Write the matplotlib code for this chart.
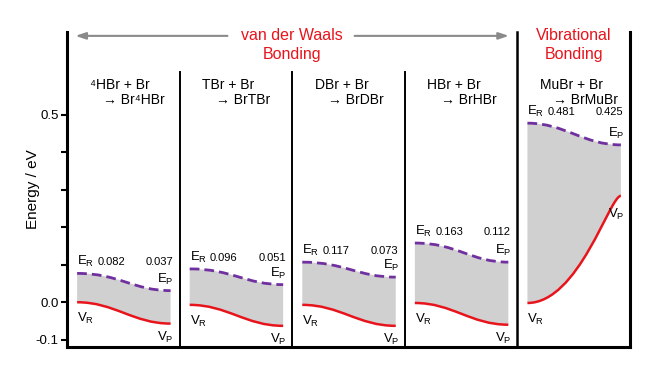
import matplotlib.pyplot as plt
from matplotlib.path import Path
from matplotlib.patches import PathPatch

plt.rcParams['font.family'] = ['Liberation Sans', 'DejaVu Sans']
plt.rcParams['mathtext.fontset'] = 'custom'
plt.rcParams['mathtext.rm'] = 'Liberation Sans'
plt.rcParams['mathtext.it'] = 'Liberation Sans:italic'

# reaction of each panel (line 1, line 2)
reactants = ['\u2074HBr + Br', 'TBr + Br', 'DBr + Br', 'HBr + Br', 'MuBr + Br']
products = ['\u2192 Br\u2074HBr', '\u2192 BrTBr', '\u2192 BrDBr', '\u2192 BrHBr', '\u2192 BrMuBr']
# labelled values
er_text = ['0.082', '0.096', '0.117', '0.163', '0.481']
ep_text = ['0.037', '0.051', '0.073', '0.112', '0.425']
# curve end points (eV)
e_react = [0.077, 0.089, 0.107, 0.158, 0.478]
e_prod = [0.031, 0.047, 0.067, 0.107, 0.420]
v_react = [0.0, -0.007, -0.007, -0.002, -0.002]
v_prod = [-0.057, -0.063, -0.063, -0.060, 0.284]

red = '#e8141c'
purple = '#7030a0'
grey = '#d0d0d0'

fig = plt.figure(figsize=(6.53, 3.78), dpi=100)
ax = fig.add_axes([0.1026, 0.082, 0.862, 0.833])
ax.set_xlim(0, 5)
ax.set_ylim(-0.1195, 0.721)


def bez(x0, x1, y0, y1, a, b):
    w = x1 - x0
    return [(x0, y0), (x0 + a * w, y0), (x1 - b * w, y1), (x1, y1)]


for i in range(5):
    x0 = i + 0.09
    x1 = i + 0.92
    if i < 4:
        ea, eb, va, vb = 0.45, 0.4, 0.4, 0.4
    else:
        ea, eb, va, vb = 0.4, 0.4, 0.55, 0.12
    top = bez(x0, x1, e_react[i], e_prod[i], ea, eb)
    bot = bez(x0, x1, v_react[i], v_prod[i], va, vb)
    verts = top + bot[::-1] + [(0, 0)]
    codes = [Path.MOVETO, Path.CURVE4, Path.CURVE4, Path.CURVE4,
             Path.LINETO, Path.CURVE4, Path.CURVE4, Path.CURVE4, Path.CLOSEPOLY]
    ax.add_patch(PathPatch(Path(verts, codes), fc=grey, ec='none', zorder=1))
    ax.add_patch(PathPatch(Path(top, codes[:4]), fc='none', ec=purple, lw=2.0,
                           ls=(0, (3.5, 1.8)), zorder=3))
    ax.add_patch(PathPatch(Path(bot, codes[:4]), fc='none', ec=red, lw=1.8, zorder=3))

    # panel titles
    ax.text(i + 0.20, 0.58, reactants[i], fontsize=10, va='center', ha='left')
    ax.text(i + 0.32, 0.54, products[i], fontsize=10, va='center', ha='left')

    # labels
    ax.text(x0, e_react[i] + 0.031, 'E$_\\mathregular{R}$', fontsize=9.5, ha='left', va='center')
    ax.text(i + 0.27, e_react[i] + 0.030, er_text[i], fontsize=8, ha='left', va='center')
    ax.text(i + 0.945, e_react[i] + 0.030, ep_text[i], fontsize=8, ha='right', va='center')
    ax.text(i + 0.95, e_prod[i] + 0.031, 'E$_\\mathregular{P}$', fontsize=9.5, ha='right', va='center')
    ax.text(x0, v_react[i] - 0.043, 'V$_\\mathregular{R}$', fontsize=9.5, ha='left', va='center')
    vp_off = 0.036 if i < 4 else 0.05
    ax.text(i + 0.95, v_prod[i] - vp_off, 'V$_\\mathregular{P}$', fontsize=9.5, ha='right', va='center')

# panel dividers
for xd in [1, 2, 3]:
    ax.plot([xd, xd], [-0.1195, 0.615], color='black', lw=1.4, zorder=4, clip_on=False)
ax.plot([4, 4], [-0.1195, 0.721], color='black', lw=1.8, zorder=4, clip_on=False)
ax.plot([5, 5], [-0.1195, 0.721], color='black', lw=2.2, zorder=4, clip_on=False)

# bonding regime annotations
ax.annotate('', xy=(0.05, 0.711), xytext=(1.45, 0.711),
            arrowprops=dict(arrowstyle='-|>,head_length=0.6,head_width=0.2', color='#8a8a8a', lw=1.5))
ax.annotate('', xy=(3.95, 0.711), xytext=(2.53, 0.711),
            arrowprops=dict(arrowstyle='-|>,head_length=0.6,head_width=0.2', color='#8a8a8a', lw=1.5))
ax.text(2.0, 0.713, 'van der Waals', color=red, fontsize=11.5, ha='center', va='center')
ax.text(2.0, 0.660, 'Bonding', color=red, fontsize=11.5, ha='center', va='center')
ax.text(4.5, 0.713, 'Vibrational', color=red, fontsize=11.5, ha='center', va='center')
ax.text(4.5, 0.660, 'Bonding', color=red, fontsize=11.5, ha='center', va='center')

ax.spines['top'].set_visible(False)
ax.spines['right'].set_visible(False)
ax.spines['left'].set_linewidth(2.2)
ax.spines['bottom'].set_linewidth(2.2)
ax.set_xticks([])
ax.set_yticks([-0.1, 0.0, 0.1, 0.2, 0.3, 0.4, 0.5])
ax.set_yticklabels(['-0.1', '0.0', '', '', '', '', '0.5'], fontsize=9.5)
ax.tick_params(axis='y', direction='out', length=4, width=1.5, pad=2)
ax.set_ylabel('Energy / eV', fontsize=11, labelpad=-3)

fig.savefig('out.png', dpi=100)
